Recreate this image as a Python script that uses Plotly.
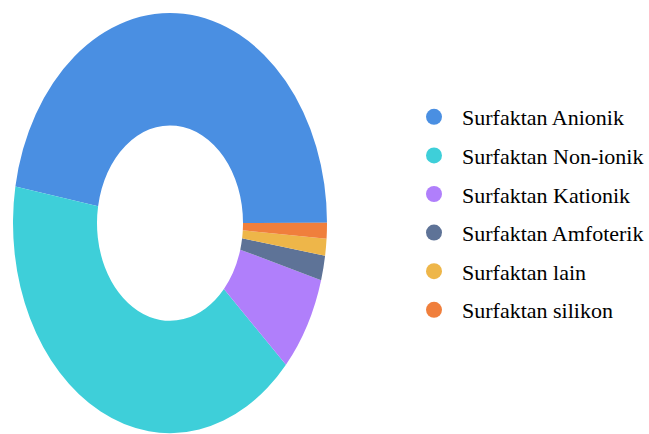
import plotly.graph_objects as go

labels = ["Surfaktan Anionik", "Surfaktan Non-ionik", "Surfaktan Kationik",
          "Surfaktan Amfoterik", "Surfaktan lain", "Surfaktan silikon"]
values = [47.2, 41.0, 7.4, 1.9, 1.3, 1.2]
colors = ["#4A8FE2", "#3ECFD9", "#B07FFB", "#5E7397", "#EEB649", "#F07F3C"]

fig = go.Figure()
fig.add_trace(go.Pie(
    labels=labels, values=values, hole=0.465, sort=False,
    direction="counterclockwise", rotation=-80,
    marker=dict(colors=colors, line=dict(width=0)),
    textinfo="none", hoverinfo="label+percent", showlegend=False,
    domain=dict(x=[13/649, 327/649], y=[0.124, 0.848]),
))
for lab, col in zip(labels, colors):
    fig.add_trace(go.Scatter(x=[None], y=[None], mode="markers", name=lab,
                             legendgroup=lab,
                             marker=dict(color=col, size=18, symbol="circle")))

fig.update_layout(
    width=649, height=434, margin=dict(l=0, r=0, t=0, b=0),
    paper_bgcolor="white", plot_bgcolor="white",
    xaxis=dict(visible=False, domain=[0.99, 1]), yaxis=dict(visible=False),
    legend=dict(x=1, xanchor="right", y=1 - 96/434, yanchor="top",
                font=dict(family="Liberation Serif", size=22, color="black"),
                tracegroupgap=7, itemsizing="trace", itemwidth=46,
                borderwidth=0, bgcolor="rgba(0,0,0,0)"),
)

# the reference donut is drawn vertically stretched (elliptical)
post = """
var gd = document.getElementById('{plot_id}');
var pl = gd.querySelector('.pielayer');
if (pl) {
  pl.style.transformOrigin = '170px 223px';
  pl.style.transform = 'scaleY(1.338)';
}
"""
fig.write_html("out.html", post_script=post)
